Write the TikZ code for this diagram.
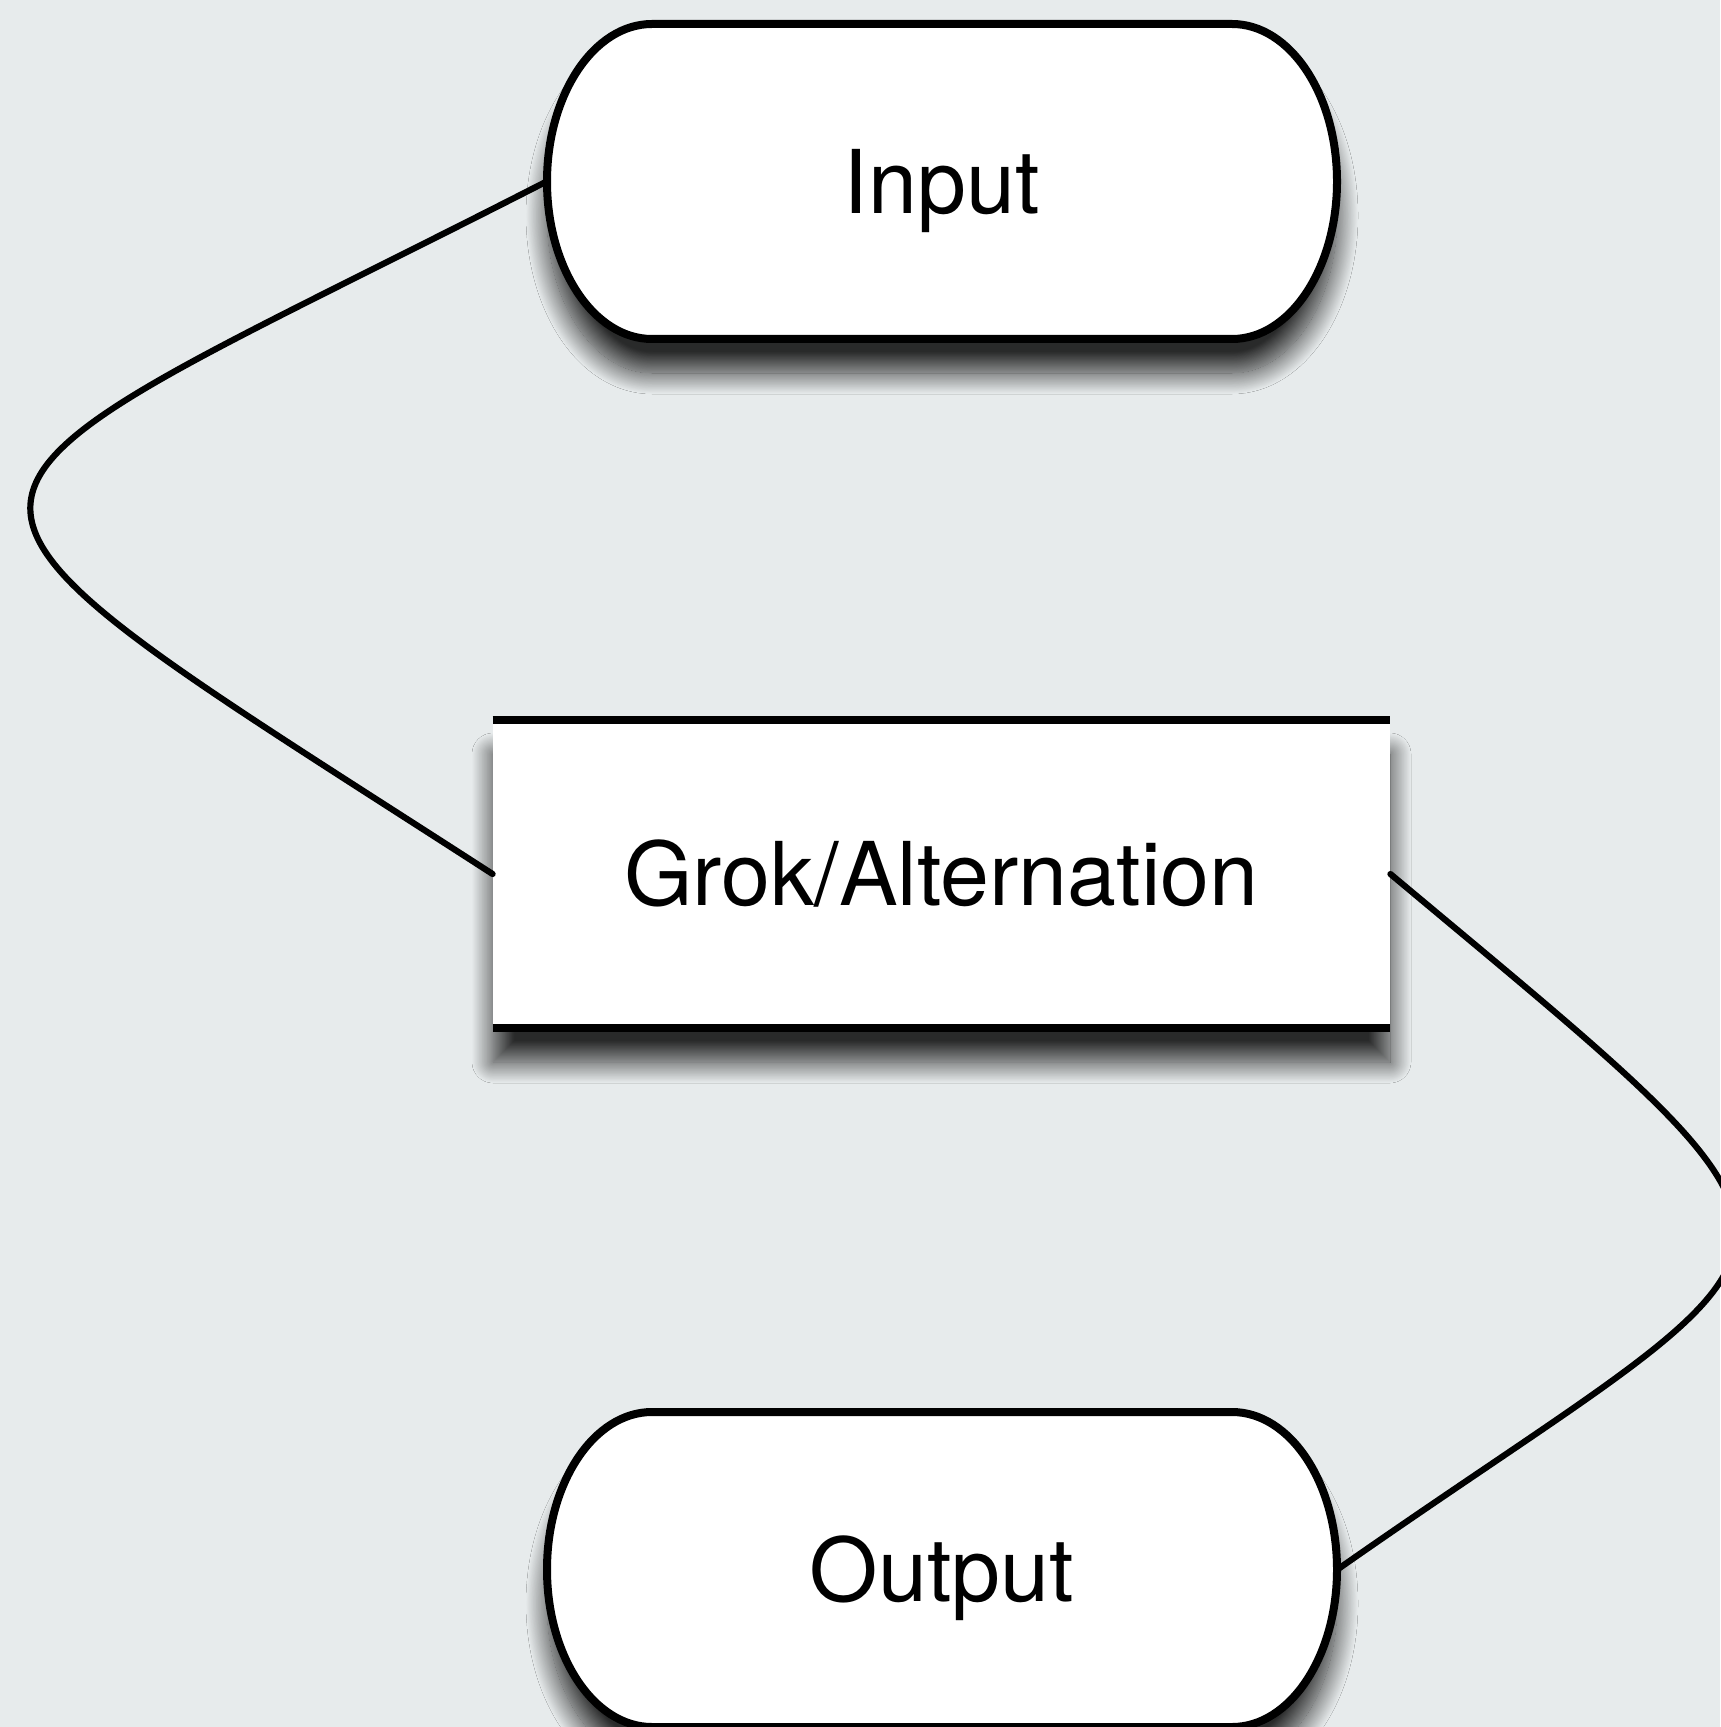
\documentclass[tikz,border=0pt]{standalone}
\usepackage{fontspec}
\setmainfont{TeX Gyre Heros}
\usetikzlibrary{shadows.blur,calc}
\definecolor{canvas}{RGB}{231,235,236}
% outline of a terminator round a centre: flat top and bottom, half-elliptic ends
\newcommand\terminatoroutline[1]{%
  ($(#1)+(-290,-157.5)$) -- ($(#1)+(290,-157.5)$)
  arc[start angle=90, end angle=-90, x radius=52.5pt, y radius=78.75pt]
  -- ($(#1)+(-290,157.5)$)
  arc[start angle=270, end angle=90, x radius=52.5pt, y radius=78.75pt]
  -- cycle}
\tikzset{
  softshadow/.style={blur shadow={shadow xshift=0pt, shadow yshift=-17pt,
      shadow blur radius=10.5pt, shadow opacity=82, shadow blur steps=30}},
  labelfont/.style={font=\fontsize{44pt}{50pt}\selectfont, text height=31.6pt, text depth=0pt},
  termlabel/.style={minimum width=395pt, minimum height=157.5pt, inner sep=0pt, labelfont},
  termshape/.style={draw=black, line width=4pt, fill=white, softshadow},
  procbox/.style={fill=white, minimum width=448.5pt, minimum height=154pt,
      inner sep=0pt, labelfont, softshadow},
  rule/.style={line width=4pt, line cap=butt},
  link/.style={line width=3.1pt, line cap=round},
}
\begin{document}
\begin{tikzpicture}[x=0.5pt, y=-0.5pt]
  % canvas
  \fill[canvas] (0,0) rectangle (1720,1727);
  \useasboundingbox (0,0) rectangle (1720,1727);

  % terminators: outline first, then the named label node on top
  \coordinate (inc) at (942,181.5);
  \coordinate (outc) at (942,1569.5);
  \path[termshape] \terminatoroutline{inc};
  \path[termshape] \terminatoroutline{outc};
  \node[termlabel] (in) at (inc) {Input};
  \node[termlabel] (out) at (outc) {Output};

  % process box: ruled above and below only
  \node[procbox] (grok) at (941.5,874) {Grok/Alternation};
  \draw[rule] (grok.north west) -- (grok.north east);
  \draw[rule] (grok.south west) -- (grok.south east);

  % connectors
  \draw[link] (in.west) .. controls +(-665,340) and +(-638.5,-412) .. (grok.west);
  \draw[link] (grok.east) .. controls +(490,410) and +(500,-350) .. (out.east);
\end{tikzpicture}
\end{document}
